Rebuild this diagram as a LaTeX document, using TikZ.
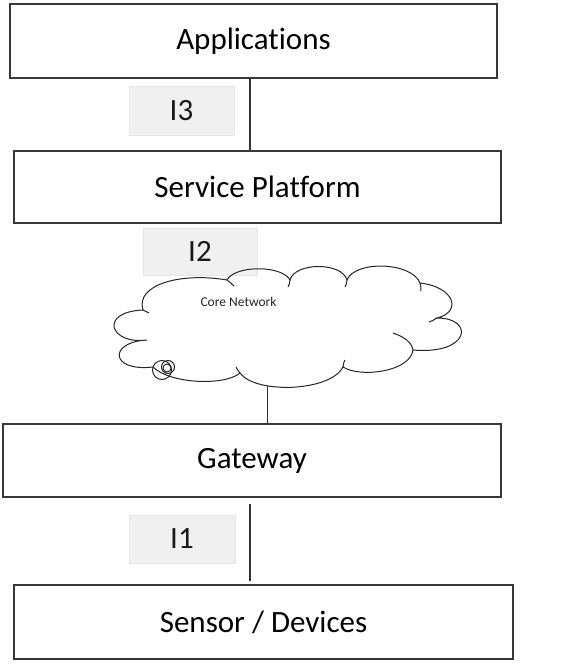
\documentclass[tikz,border=0pt]{standalone}
\usepackage{fontspec}
\setmainfont{Carlito}[Ligatures=NoCommon]
\begin{document}
\begin{tikzpicture}[x=1pt,y=-1pt,
  layerbox/.style={draw=black!78,line width=1.3pt,inner sep=0pt,font=\fontsize{31}{36}\selectfont,text=black},
  iflabel/.style={fill=black!6,draw=black!10,line width=0.5pt,inner sep=0pt,font=\fontsize{31}{36}\selectfont,text=black!90},
  wire/.style={draw=black!80,line width=1.1pt},
  cloudline/.style={draw=black!85,line width=1pt}]
\useasboundingbox[fill=white] (0,0) rectangle (561,664);

% layers
\node[layerbox,minimum width=487pt,minimum height=74pt] (app) at (253.5,41) {Applications};
\node[layerbox,minimum width=487pt,minimum height=72pt] (sp) at (257.5,187) {Service Platform};
\node[layerbox,minimum width=498pt,minimum height=73pt] (gw) at (252,460.5) {Gateway};
\node[layerbox,minimum width=499pt,minimum height=74pt] (sen) at (263.5,622) {Sensor / Devices};

% interface labels
\node[iflabel,minimum width=105pt,minimum height=49pt] (i3) at (181.5,110.5) {I3};
\node[iflabel,minimum width=114pt,minimum height=47pt] (i2) at (200,251.5) {I2};
\node[iflabel,minimum width=106pt,minimum height=48pt] (i1) at (182,539) {I1};

% cloud
\path[cloudline]
 (147,340) .. controls (110,345) and (98,312) .. (143,310)
 .. controls (135,285) and (180,272) .. (227,280)
 .. controls (235,265) and (282,265) .. (290,280)
 .. controls (295,262) and (342,262) .. (347,280)
 .. controls (355,260) and (412,262) .. (420,283)
 .. controls (455,287) and (462,312) .. (437,318)
 .. controls (475,318) and (470,355) .. (413,350)
 .. controls (410,372) and (360,378) .. (343,367)
 .. controls (330,392) and (255,394) .. coordinate[pos=0.69] (cloudbot) (240,373)
 .. controls (225,386) and (170,384) .. (153,367)
 .. controls (110,372) and (108,342) .. (147,340);
% inner arcs of the cloud
\draw[cloudline] (227,280) .. controls (230,282) and (232,284) .. (234,286);
\draw[cloudline] (290,280) .. controls (290,283) and (289,285) .. (288,287);
\draw[cloudline] (347,280) .. controls (347,283) and (346,285) .. (345,287);
\draw[cloudline] (420,283) .. controls (421,286) and (421,288) .. (421,291);
\draw[cloudline] (437,318) .. controls (434,320) and (432,321) .. (429,322);
\draw[cloudline] (393,333) .. controls (405,337) and (412,343) .. (413,350);
\draw[cloudline] (343,367) .. controls (343,364) and (344,362) .. (345,360);
\draw[cloudline] (240,373) .. controls (238,371) and (237,369) .. (236,367);
\draw[cloudline] (143,310) .. controls (145,311) and (147,312) .. (149,313);

\node[font=\fontsize{13.5}{15}\selectfont,text=black!85,inner sep=0pt] (core) at (238.5,302) {Core Network};

% small loops
\draw[cloudline] (162,370) circle[radius=9.5];
\draw[cloudline] (168,367) circle[radius=6.5];
\draw[cloudline] (167,368) circle[radius=4];

% connectors
\coordinate (c3) at (250,0);
\draw[wire] (app.south -| c3) -- (sp.north -| c3);
\draw[wire] (cloudbot) -- (gw.north -| cloudbot);
\draw[wire] ([yshift=-6pt]gw.south -| c3) -- ([yshift=3pt]sen.north -| c3);
\end{tikzpicture}
\end{document}
